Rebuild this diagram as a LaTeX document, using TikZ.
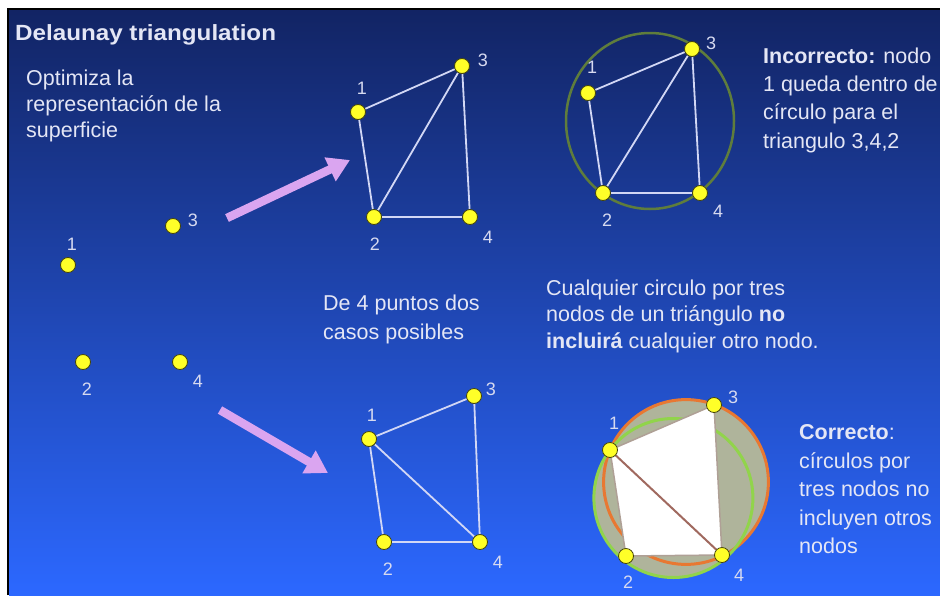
\documentclass[tikz,border=0pt]{standalone}
\usepackage{fontspec}
\setmainfont{Liberation Sans}
\usetikzlibrary{arrows.meta}
\pgfdeclarelayer{back}
\pgfdeclarelayer{mid}
\pgfsetlayers{back,mid,main}
\definecolor{bgtop}{RGB}{18,36,100}
\definecolor{bgmid}{RGB}{34,82,212}
\definecolor{bgbot}{RGB}{44,104,255}
\definecolor{txtc}{RGB}{228,230,245}
\definecolor{lblc}{RGB}{215,218,240}
\definecolor{edgec}{RGB}{210,215,245}
\definecolor{dotc}{RGB}{255,255,40}
\definecolor{dotedge}{RGB}{70,70,10}
\definecolor{arrowc}{RGB}{218,165,240}
\definecolor{circinc}{RGB}{95,125,60}
\definecolor{circor}{RGB}{232,120,50}
\definecolor{circgr}{RGB}{145,212,75}
\definecolor{circfill}{RGB}{175,180,155}
\definecolor{quadedge}{RGB}{175,160,150}
\definecolor{diagc}{RGB}{160,105,95}
\begin{document}
\begin{tikzpicture}[x=1pt,y=-1pt,
  dot/.style={circle,fill=dotc,draw=dotedge,line width=0.8pt,minimum size=15pt,inner sep=0pt},
  lbl/.style={text=lblc,font=\fontsize{18}{18}\selectfont,inner sep=0pt},
  link/.style={draw=edgec,line width=1.8pt},
  body/.style={text=txtc,align=left,anchor=north west,inner sep=0pt},
  bigarrow/.style={draw=arrowc,line width=8.5pt,-{Triangle[width=25pt,length=22pt]}},
]
\useasboundingbox (0,0) rectangle (940,595);
\begin{pgfonlayer}{back}
\fill[white] (0,0) rectangle (940,595);
\shade[top color=bgtop,middle color=bgmid,bottom color=bgbot] (9,10) rectangle (940,595);
\draw[line width=2.5pt,black] (8,595) -- (8,9) -- (940,9);
\end{pgfonlayer}

% texts
\node[body,font=\bfseries\fontsize{22}{22}\selectfont,anchor=base west] (title) at (15,40) {\scalebox{1.1}[1]{Delaunay triangulation}};
\node[body,font=\fontsize{21.5}{26}\selectfont] (opt) at (26,69.5) {Optimiza la\\representación de la\\superficie};
\node[body,font=\fontsize{21.5}{28.3}\selectfont] (inc) at (763,47.5) {\textbf{Incorrecto:} nodo\\1 queda dentro de\\círculo para el\\triangulo 3,4,2};
\node[body,font=\fontsize{21.5}{29}\selectfont] (de4) at (323,294.5) {De 4 puntos dos\\casos posibles};
\node[body,font=\fontsize{21.5}{26.5}\selectfont] (cual) at (546,279.5) {Cualquier circulo por tres\\nodos de un triángulo \textbf{no}\\\textbf{incluirá} cualquier otro nodo.};
\node[body,font=\fontsize{21.5}{28.5}\selectfont] (cor) at (799,424.5) {\textbf{Correcto}:\\círculos por\\tres nodos no\\incluyen otros\\nodos};

% dots
\foreach \n/\x/\y in {s1/68/265,s3/173/226,s2/83/362,s4/180/362,
  t1/358/112,t3/462/66,t2/374/217,t4/470/217,
  b1/369/439,b3/474/396,b2/384/542,b4/480/542,
  r1/588/93,r3/692/49,r2/603/193,r4/700/193,
  c1/610/450,c3/714/405,c2/626/556,c4/722/555}
  \node[dot] (\n) at (\x,\y) {};

% labels
\foreach \n/\t/\x/\y in {ls1/1/72/244,ls3/3/193/220,ls2/2/87/389,ls4/4/198/381,
  lt1/1/362/88,lt3/3/483/60,lt2/2/375/244,lt4/4/488/237,
  lb1/1/372/415,lb3/3/491/389,lb2/2/388/569,lb4/4/498/562,
  lr1/1/592/67,lr3/3/711/43,lr2/2/607/220,lr4/4/718/211,
  lc1/1/614/423,lc3/3/733/397,lc2/2/628/582,lc4/4/739/575}
  \node[lbl] (\n) at (\x,\y) {\t};

% arrows
\coordinate (a1s) at (227,218);
\coordinate (a1e) at (350,160);
\coordinate (a2s) at (220,410);
\coordinate (a2e) at (328,473);
\draw[bigarrow] (a1s) -- (a1e);
\draw[bigarrow] (a2s) -- (a2e);

\begin{pgfonlayer}{mid}
% top triangulation
\draw[link] (t1) -- (t3);
\draw[link] (t1) -- (t2);
\draw[link] (t2) -- (t3);
\draw[link] (t3) -- (t4);
\draw[link] (t2) -- (t4);
% bottom triangulation
\draw[link] (b1) -- (b3);
\draw[link] (b1) -- (b2);
\draw[link] (b1) -- (b4);
\draw[link] (b3) -- (b4);
\draw[link] (b2) -- (b4);
% incorrect case
\draw[circinc,line width=2.5pt] (650,121) ellipse[x radius=84,y radius=88];
\draw[link] (r1) -- (r3);
\draw[link] (r1) -- (r2);
\draw[link] (r2) -- (r3);
\draw[link] (r3) -- (r4);
\draw[link] (r2) -- (r4);
% correct case
\fill[circfill] (686,482) circle[radius=82.4];
\fill[circfill] (673.4,498) circle[radius=79.5];
\draw[circor,line width=3pt] (686,482) circle[radius=82.4];
\draw[circgr,line width=3pt] (673.4,498) circle[radius=79.5];
\filldraw[fill=white,draw=quadedge,line width=1.5pt] (c1.center) -- (c3.center) -- (c4.center) -- (c2.center) -- cycle;
\draw[diagc,line width=2pt] (c1) -- (c4);
\end{pgfonlayer}
\end{tikzpicture}
\end{document}
